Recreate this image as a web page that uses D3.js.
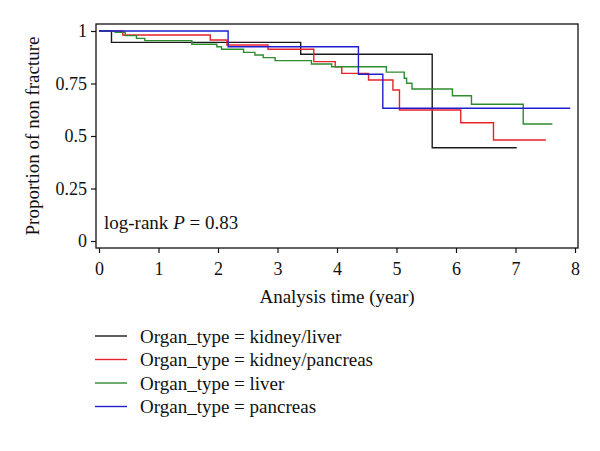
<!DOCTYPE html>
<html>
<head>
<meta charset="utf-8">
<script src="https://cdn.jsdelivr.net/npm/d3@7"></script>
<style>
  body { margin: 0; background: #fff; }
  text { font-family: "Liberation Serif", "DejaVu Serif", serif; fill: #111; }
</style>
</head>
<body>
<svg id="chart" width="600" height="451"></svg>
<script>
// Kaplan-Meier curves (time in years, survival proportion)
var groups = ["kidney/liver", "kidney/pancreas", "liver", "pancreas"];
var colors = ["#1a1a1a", "#e8222a", "#2e8b2e", "#1f1fd0"];

var kidneyLiverTime = [0, 0.21, 3.39, 5.60, 7.02];
var kidneyLiverSurv = [1, 0.946, 0.889, 0.444, 0.444];

var kidneyPancTime = [0, 0.40, 1.87, 2.15, 2.84, 3.61, 3.97, 4.08, 4.53, 4.94, 5.05, 6.08, 6.63, 7.51];
var kidneyPancSurv = [1, 0.981, 0.957, 0.933, 0.913, 0.854, 0.830, 0.798, 0.767, 0.719, 0.624, 0.563, 0.481, 0.481];

var liverTime = [0, 0.27, 0.44, 0.63, 0.77, 1.56, 1.98, 2.06, 2.43, 2.62, 2.76, 2.96, 3.57, 3.91, 4.83, 5.13, 5.17, 5.26, 5.94, 6.26, 7.13, 7.62];
var liverSurv = [1, 0.994, 0.978, 0.965, 0.954, 0.937, 0.925, 0.913, 0.898, 0.886, 0.873, 0.859, 0.843, 0.830, 0.804, 0.775, 0.751, 0.724, 0.692, 0.651, 0.557, 0.557];

var pancTime = [0, 2.17, 4.36, 4.77, 7.92];
var pancSurv = [1, 0.925, 0.794, 0.632, 0.632];

var xTicks = [0, 1, 2, 3, 4, 5, 6, 7, 8];
var yTicks = [0, 0.25, 0.5, 0.75, 1];
var yTickLabels = ["0", "0.25", "0.5", "0.75", "1"];

var series = [
    d3.zip(kidneyLiverTime, kidneyLiverSurv),
    d3.zip(kidneyPancTime, kidneyPancSurv),
    d3.zip(liverTime, liverSurv),
    d3.zip(pancTime, pancSurv)
];

var svg = d3.select("#chart");

// plot frame, and the inset region the data lives in
var frame = { left: 96, top: 24, right: 578, bottom: 248 };
var x = d3.scaleLinear().domain([0, 8]).range([99, 575]);
var y = d3.scaleLinear().domain([0, 1]).range([241, 31]);

svg.append("rect")
    .attr("x", frame.left).attr("y", frame.top)
    .attr("width", frame.right - frame.left)
    .attr("height", frame.bottom - frame.top)
    .attr("fill", "none").attr("stroke", "#111").attr("stroke-width", 1.3);

// y axis
var yAxis = d3.axisLeft(y)
    .tickValues(yTicks)
    .tickSize(5)
    .tickPadding(4)
    .tickFormat(function (d, i) { return yTickLabels[i]; });

var gy = svg.append("g")
    .attr("transform", "translate(" + frame.left + ",0)")
    .call(yAxis);
gy.select(".domain").remove();
gy.selectAll("line").attr("stroke", "#111").attr("stroke-width", 1.2);
gy.selectAll("text").style("font-size", "18px").style("font-family", "Liberation Serif");

// x axis
var xAxis = d3.axisBottom(x)
    .tickValues(xTicks)
    .tickSize(5)
    .tickPadding(9)
    .tickFormat(d3.format("d"));

var gx = svg.append("g")
    .attr("transform", "translate(0," + frame.bottom + ")")
    .call(xAxis);
gx.select(".domain").remove();
gx.selectAll("line").attr("stroke", "#111").attr("stroke-width", 1.2);
gx.selectAll("text").style("font-size", "18px").style("font-family", "Liberation Serif");

// axis titles
svg.append("text")
    .attr("x", (frame.left + frame.right) / 2)
    .attr("y", 303)
    .attr("text-anchor", "middle")
    .style("font-size", "19px")
    .text("Analysis time (year)");

svg.append("text")
    .attr("transform", "translate(39," + (frame.top + 112) + ") rotate(-90)")
    .attr("text-anchor", "middle")
    .style("font-size", "19px")
    .text("Proportion of non fracture");

// curves
var line = d3.line()
    .x(function (d) { return x(d[0]); })
    .y(function (d) { return y(d[1]); })
    .curve(d3.curveStepAfter);

svg.append("g").selectAll("path")
    .data(series)
    .enter().append("path")
    .attr("d", line)
    .attr("fill", "none")
    .attr("stroke", function (d, i) { return colors[i]; })
    .attr("stroke-width", 1.4);

// log-rank annotation
var note = svg.append("text")
    .attr("x", 104)
    .attr("y", 229)
    .style("font-size", "19px");
note.append("tspan").text("log-rank ");
note.append("tspan").style("font-style", "italic").text("P");
note.append("tspan").text(" = 0.83");

// legend
var legend = svg.append("g").selectAll("g")
    .data(groups)
    .enter().append("g")
    .attr("transform", function (d, i) { return "translate(0," + (336 + i * 23.5) + ")"; });

legend.append("line")
    .attr("x1", 95).attr("x2", 127)
    .attr("stroke", function (d, i) { return colors[i]; })
    .attr("stroke-width", 1.4);

legend.append("text")
    .attr("x", 140)
    .attr("y", 6.5)
    .style("font-size", "19px")
    .text(function (d) { return "Organ_type = " + d; });
</script>
</body>
</html>
